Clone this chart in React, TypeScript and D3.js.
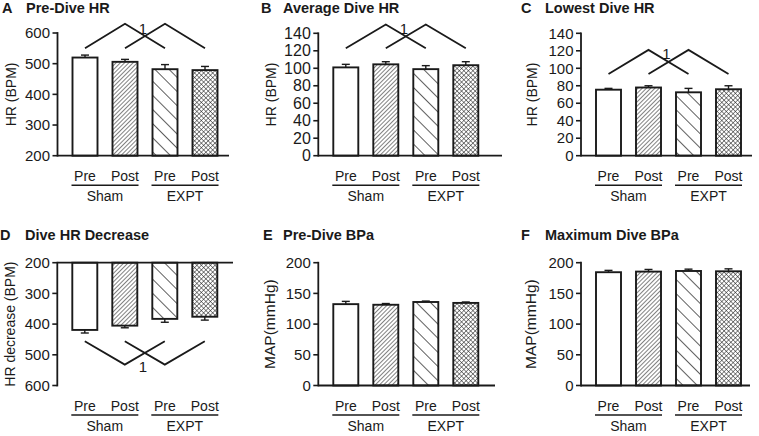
import React from "react";
import * as d3 from "d3";

// ---------- data ----------
const conditions = ["Pre", "Post", "Pre", "Post"];
const cohorts = ["Sham", "EXPT"];

const preDiveHR = [520, 506, 482, 479];
const preDiveHRErr = [8, 8, 15, 12];
const avgDiveHR = [101, 104.5, 99, 103.5];
const avgDiveHRErr = [3.5, 3, 4, 4];
const lowestDiveHR = [75.5, 78, 72.5, 76];
const lowestDiveHRErr = [1.5, 2, 4.5, 4];
const hrDecrease = [419, 405, 383, 376];
const hrDecreaseErr = [10, 7, 11, 11];
const preDiveBPa = [132.5, 131.5, 136, 134.5];
const preDiveBPaErr = [4.5, 2, 1.5, 1.5];
const maxDiveBPa = [184.5, 185.5, 186.5, 186];
const maxDiveBPaErr = [3, 3.5, 3, 4];

const ticksHR600 = [200, 300, 400, 500, 600];
const ticksHR140 = [0, 20, 40, 60, 80, 100, 120, 140];
const ticksMAP = [0, 50, 100, 150, 200];

// significance bracket levels [end, apex]
const bracketA = [550, 630];
const bracketB = [123, 150];
const bracketC = [93.5, 121];
const bracketD = [456, 532];

const fills = ["#fff", "url(#hatchDense)", "url(#hatchSparse)", "url(#cross)"];

type Panel = {
  letter: string;
  title: string;
  ylabel: string;
  values: number[];
  errors: number[];
  ticks: number[];
  domain: [number, number];
  inverted: boolean;
  x0: number;
  xEnd: number;
  yTop: number;
  yBottom: number;
  bracket: number[] | null;
  letterX: number;
  titleX: number;
  titleY: number;
  labelX: number;
  labelSize: number;
  tickSize: number;
};

const panels: Panel[] = [
  { letter: "A", title: "Pre-Dive HR", ylabel: "HR (BPM)", values: preDiveHR, errors: preDiveHRErr, ticks: ticksHR600, domain: [200, 600], inverted: false, x0: 57.5, xEnd: 229, yTop: 33, yBottom: 155.7, bracket: bracketA, letterX: 2, titleX: 26, titleY: 13, labelX: 11, labelSize: 14, tickSize: 15 },
  { letter: "B", title: "Average Dive HR", ylabel: "HR (BPM)", values: avgDiveHR, errors: avgDiveHRErr, ticks: ticksHR140, domain: [0, 140], inverted: false, x0: 318.3, xEnd: 502, yTop: 33.3, yBottom: 155.7, bracket: bracketB, letterX: 261, titleX: 283, titleY: 13, labelX: 271, labelSize: 14, tickSize: 16 },
  { letter: "C", title: "Lowest Dive HR", ylabel: "HR (BPM)", values: lowestDiveHR, errors: lowestDiveHRErr, ticks: ticksHR140, domain: [0, 140], inverted: false, x0: 581, xEnd: 752, yTop: 33.3, yBottom: 155.7, bracket: bracketC, letterX: 521, titleX: 545, titleY: 13, labelX: 531.5, labelSize: 14, tickSize: 15 },
  { letter: "D", title: "Dive HR Decrease", ylabel: "HR decrease (BPM)", values: hrDecrease, errors: hrDecreaseErr, ticks: ticksHR600, domain: [200, 600], inverted: true, x0: 57.3, xEnd: 233, yTop: 262.7, yBottom: 385.5, bracket: bracketD, letterX: 0, titleX: 25, titleY: 240, labelX: 10, labelSize: 14, tickSize: 15 },
  { letter: "E", title: "Pre-Dive BPa", ylabel: "MAP(mmHg)", values: preDiveBPa, errors: preDiveBPaErr, ticks: ticksMAP, domain: [0, 200], inverted: false, x0: 318.3, xEnd: 495, yTop: 262.7, yBottom: 385.5, bracket: null, letterX: 263, titleX: 283, titleY: 240, labelX: 269, labelSize: 15.5, tickSize: 15 },
  { letter: "F", title: "Maximum Dive BPa", ylabel: "MAP(mmHg)", values: maxDiveBPa, errors: maxDiveBPaErr, ticks: ticksMAP, domain: [0, 200], inverted: false, x0: 581, xEnd: 750, yTop: 262.7, yBottom: 385.5, bracket: null, letterX: 521, titleX: 545, titleY: 240, labelX: 530, labelSize: 15.5, tickSize: 15 },
];

const INK = "#1a1a1a";
const FONT = "'Liberation Sans', Arial, Helvetica, sans-serif";

function PanelView({ p }: { p: Panel }) {
  const x = d3
    .scaleBand<number>()
    .domain(d3.range(4))
    .range([p.x0, p.x0 + 175])
    .paddingInner(0.375)
    .paddingOuter(0.375);
  const y = d3
    .scaleLinear()
    .domain(p.domain)
    .range(p.inverted ? [p.yTop, p.yBottom] : [p.yBottom, p.yTop]);
  const bw = x.bandwidth();
  const base = p.domain[0];
  const cx = (i: number) => (x(i) as number) + bw / 2;
  const axisY = p.inverted ? p.yTop : p.yBottom;

  let bracket: React.ReactNode = null;
  if (p.bracket) {
    const yEnd = y(p.bracket[0]);
    const yApex = y(p.bracket[1]);
    const line = d3.line<[number, number]>();
    const b1 = line([[cx(0), yEnd], [cx(1), yApex], [cx(2), yEnd]]);
    const b2 = line([[cx(1), yEnd], [cx(2), yApex], [cx(3), yEnd]]);
    const crossX = (cx(1) + cx(2)) / 2;
    const crossY = (yEnd + yApex) / 2;
    bracket = (
      <g>
        <path d={b1 || ""} fill="none" stroke={INK} strokeWidth={1.8} />
        <path d={b2 || ""} fill="none" stroke={INK} strokeWidth={1.8} />
        <text
          x={crossX - 2}
          y={p.inverted ? crossY + 19 : crossY - 2.5}
          textAnchor="middle"
          fontSize={15}
          fill={INK}
        >
          1
        </text>
      </g>
    );
  }

  const labelBase = p.yBottom + 25;
  return (
    <g fontFamily={FONT}>
      {/* title */}
      <text x={p.letterX} y={p.titleY} fontSize={14.5} fontWeight="bold" fill={INK}>
        {p.letter}
      </text>
      <text x={p.titleX} y={p.titleY} fontSize={14.5} fontWeight="bold" fill={INK}>
        {p.title}
      </text>
      {/* y label */}
      <text
        transform={`translate(${p.labelX},${(p.yTop + p.yBottom) / 2}) rotate(-90)`}
        textAnchor="middle"
        dominantBaseline="central"
        fontSize={p.labelSize}
        fill={INK}
      >
        {p.ylabel}
      </text>
      {/* bars */}
      {p.values.map((v, i) => {
        const y1 = y(base);
        const y2 = y(v);
        return (
          <rect
            key={"b" + i}
            x={x(i)}
            y={Math.min(y1, y2)}
            width={bw}
            height={Math.abs(y2 - y1)}
            fill={fills[i]}
            stroke={INK}
            strokeWidth={1.9}
          />
        );
      })}
      {/* error bars */}
      {p.values.map((v, i) => {
        const ye = y(v + p.errors[i]);
        const yv = y(v);
        return (
          <g key={"e" + i} stroke={INK} strokeWidth={1.4}>
            <line x1={cx(i)} x2={cx(i)} y1={yv} y2={ye} />
            <line x1={cx(i) - 4} x2={cx(i) + 4} y1={ye} y2={ye} />
          </g>
        );
      })}
      {/* axes */}
      <line x1={p.x0} x2={p.x0} y1={p.yTop - 0.9} y2={p.yBottom + 0.9} stroke={INK} strokeWidth={1.8} />
      <line x1={p.x0} x2={p.xEnd} y1={axisY} y2={axisY} stroke={INK} strokeWidth={1.8} />
      {p.ticks.map((t) => (
        <g key={"t" + t}>
          <line x1={p.x0 - 5} x2={p.x0} y1={y(t)} y2={y(t)} stroke={INK} strokeWidth={1.6} />
          <text x={p.x0 - 7.5} y={y(t)} dy="0.35em" textAnchor="end" fontSize={p.tickSize} fill={INK}>
            {t}
          </text>
        </g>
      ))}
      {bracket}
      {/* category labels */}
      {conditions.map((c, i) => (
        <text key={"c" + i} x={cx(i)} y={labelBase} textAnchor="middle" fontSize={14} fill={INK}>
          {c}
        </text>
      ))}
      {cohorts.map((g, k) => {
        const xa = (x(k * 2) as number) - 1;
        const xb = (x(k * 2 + 1) as number) + bw + 1;
        return (
          <g key={"g" + k}>
            <line x1={xa} x2={xb} y1={p.yBottom + 29.5} y2={p.yBottom + 29.5} stroke={INK} strokeWidth={1.5} />
            <text x={(xa + xb) / 2} y={p.yBottom + 45} textAnchor="middle" fontSize={14} fill={INK}>
              {g}
            </text>
          </g>
        );
      })}
    </g>
  );
}

export default function App() {
  return (
    <svg
      width={759}
      height={436}
      viewBox="0 0 759 436"
      style={{ position: "absolute", left: 0, top: 0, background: "#fff" }}
    >
      <defs>
        <pattern id="hatchDense" patternUnits="userSpaceOnUse" width={3} height={3} patternTransform="rotate(45)">
          <rect width={3} height={3} fill="#fff" />
          <line x1={0} y1={0} x2={0} y2={3} stroke={INK} strokeWidth={1.1} />
        </pattern>
        <pattern id="hatchSparse" patternUnits="userSpaceOnUse" width={10} height={10} patternTransform="rotate(-45)">
          <rect width={10} height={10} fill="#fff" />
          <line x1={0} y1={0} x2={0} y2={10} stroke={INK} strokeWidth={1.4} />
        </pattern>
        <pattern id="cross" patternUnits="userSpaceOnUse" width={3.2} height={3.2} patternTransform="rotate(45)">
          <rect width={3.2} height={3.2} fill="#fff" />
          <line x1={0} y1={0} x2={0} y2={3.2} stroke={INK} strokeWidth={1} />
          <line x1={0} y1={0} x2={3.2} y2={0} stroke={INK} strokeWidth={1} />
        </pattern>
      </defs>
      {panels.map((p) => (
        <PanelView key={p.letter} p={p} />
      ))}
    </svg>
  );
}
